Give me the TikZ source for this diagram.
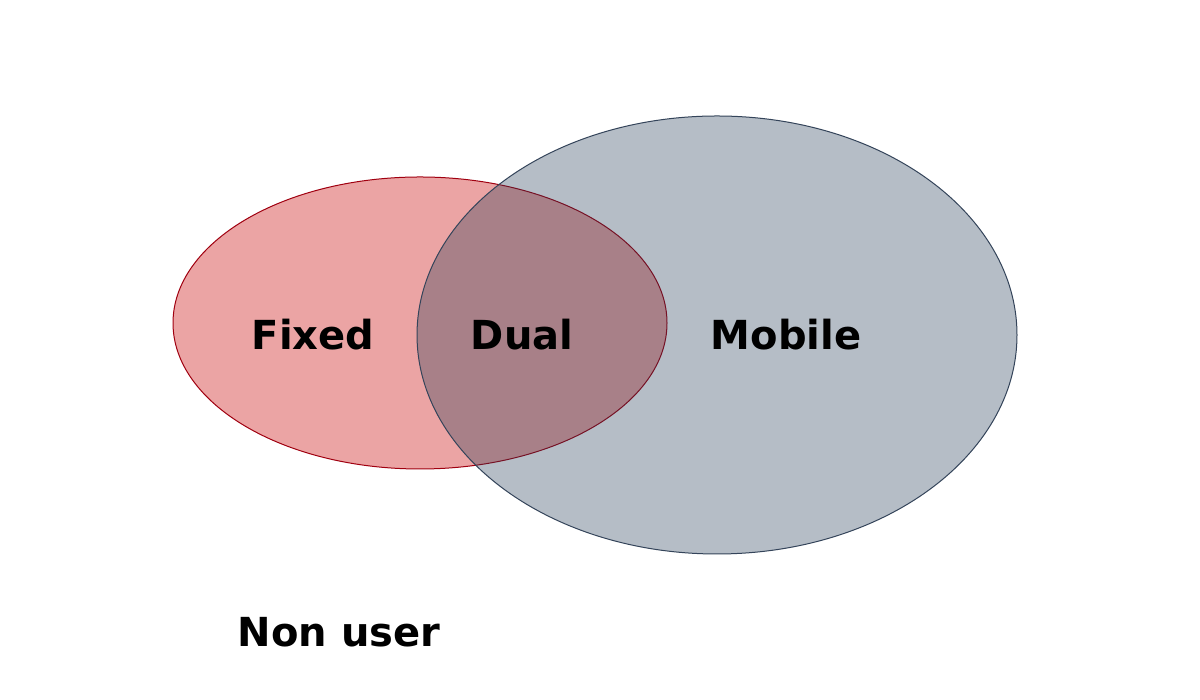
\documentclass[tikz,border=0pt]{standalone}
\usepackage{fontspec}
\setmainfont{DejaVu Sans}
\begin{document}
\begin{tikzpicture}[x=1pt,y=1pt,
  lbl/.style={anchor=base,inner sep=0pt,font=\fontsize{40}{48}\selectfont\bfseries,text=black}]
\definecolor{redfill}{RGB}{235,164,164}
\definecolor{rededge}{RGB}{160,0,16}
\definecolor{grayfill}{RGB}{33,55,82}
\definecolor{grayedge}{RGB}{52,68,90}
\useasboundingbox (0,0) rectangle (1200,700);
\path[fill=white] (0,0) rectangle (1200,700);
\draw[rededge,fill=redfill,line width=1pt] (420,377) ellipse [x radius=247,y radius=146];
\draw[grayedge,fill=grayfill,fill opacity=0.33,line width=1pt] (717,365) ellipse [x radius=300,y radius=219];
\node[lbl] (fixed) at (313,350) {Fixed};
\node[lbl] (dual) at (522,350) {Dual};
\node[lbl] (mobile) at (786,350) {Mobile};
\node[lbl] (nonuser) at (339,53) {Non user};
\end{tikzpicture}
\end{document}
